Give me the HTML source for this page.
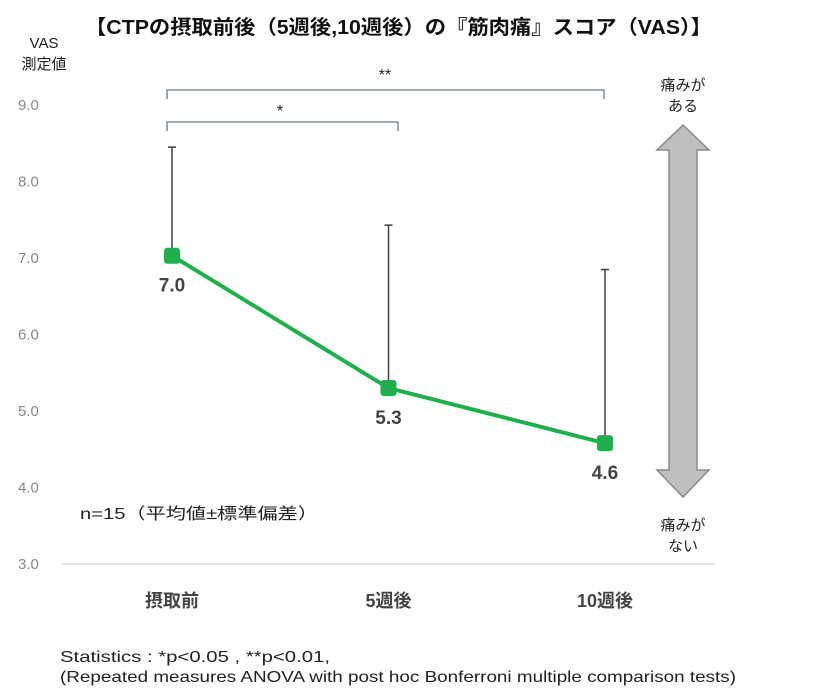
<!DOCTYPE html>
<html><head><meta charset="utf-8"><style>
body{margin:0;background:#fff;width:840px;height:696px;overflow:hidden}
svg{display:block;font-family:"Liberation Sans","Noto Sans CJK JP",sans-serif}
</style></head><body>
<svg id="c" width="840" height="696">
<text x="85" y="34" font-size="20" font-weight="bold" textLength="627" lengthAdjust="spacingAndGlyphs" fill="#111">【CTPの摂取前後（5週後,10週後）の『筋肉痛』スコア（VAS）】</text>
<text x="44" y="48" font-size="15" text-anchor="middle" fill="#222">VAS</text>
<text x="44" y="69" font-size="15" text-anchor="middle" fill="#222">測定値</text>
<g id="grid"></g><g id="marks"></g>
<path d="M683,125 L709,150 L697,150 L697,470 L709,470 L683,497 L657,470 L669,470 L669,150 L657,150 Z" fill="#bfbfbf" stroke="#8a8a8a" stroke-width="1.5"/>
<text x="683" y="90" font-size="15" text-anchor="middle" fill="#222">痛みが</text>
<text x="683" y="111" font-size="15" text-anchor="middle" fill="#222">ある</text>
<text x="683" y="530" font-size="15" text-anchor="middle" fill="#222">痛みが</text>
<text x="683" y="551" font-size="15" text-anchor="middle" fill="#222">ない</text>
<path d="M167,99 V90 H604 V99" fill="none" stroke="#44546a" stroke-width="1"/>
<text x="385" y="80" font-size="16" text-anchor="middle" fill="#222">**</text>
<path d="M167,131 V122 H398 V131" fill="none" stroke="#44546a" stroke-width="1"/>
<text x="280" y="116" font-size="16" text-anchor="middle" fill="#222">*</text>
<text x="80" y="519" font-size="16" textLength="238" lengthAdjust="spacingAndGlyphs" fill="#222">n=15（平均値±標準偏差）</text>
<text x="60" y="662" font-size="16" textLength="270" lengthAdjust="spacingAndGlyphs" fill="#222">Statistics : *p&lt;0.05 , **p&lt;0.01,</text>
<text x="60" y="682" font-size="16" textLength="676" lengthAdjust="spacingAndGlyphs" fill="#222">(Repeated measures ANOVA with post hoc Bonferroni multiple comparison tests)</text>
</svg>
<script>
const categories=["摂取前","5週後","10週後"];
const means=[7.03,5.3,4.58];
const sdUpper=[8.45,7.43,6.85];
const valueLabels=["7.0","5.3","4.6"];
const yTicks=[3,4,5,6,7,8,9];
const tickLabels=["3.0","4.0","5.0","6.0","7.0","8.0","9.0"];
const NS="http://www.w3.org/2000/svg";
const y=v=>564-(v-3)*76.5;
const x=i=>172+i*216.5;
function mk(t,a,p){const e=document.createElementNS(NS,t);for(const k in a)e.setAttribute(k,a[k]);p.appendChild(e);return e;}
const g=document.getElementById('grid'),m=document.getElementById('marks');
let base=mk('line',{x1:62,x2:715,y1:564,y2:564,stroke:'#d9d9d9','stroke-width':1.5},g);


yTicks.forEach((v,i)=>{const t=mk('text',{x:18,y:y(v)+5,'font-size':15,fill:'#888'},g);t.textContent=tickLabels[i];

});
categories.forEach((c,i)=>{const t=mk('text',{x:x(i),y:607,'font-size':18,'font-weight':'bold','text-anchor':'middle',fill:'#444'},g);t.textContent=c;

});
categories.forEach((c,i)=>{const e=mk('path',{d:`M${x(i)},${y(means[i])} V${y(sdUpper[i])} M${x(i)-4},${y(sdUpper[i])} H${x(i)+4}`,stroke:'#404040','stroke-width':1.5,fill:'none'},m);

});
const ln=mk('polyline',{points:means.map((v,i)=>x(i)+','+y(v)).join(' '),fill:'none',stroke:'#1fb04c','stroke-width':4},m);


means.forEach((v,i)=>{const r=mk('rect',{x:x(i)-8,y:y(v)-8,width:16,height:16,rx:3,fill:'#1fb04c'},m);


const t=mk('text',{x:x(i),y:y(v)+36,'font-size':19,'font-weight':'bold','text-anchor':'middle',fill:'#444'},m);t.textContent=valueLabels[i];

});
</script>
</body></html>
